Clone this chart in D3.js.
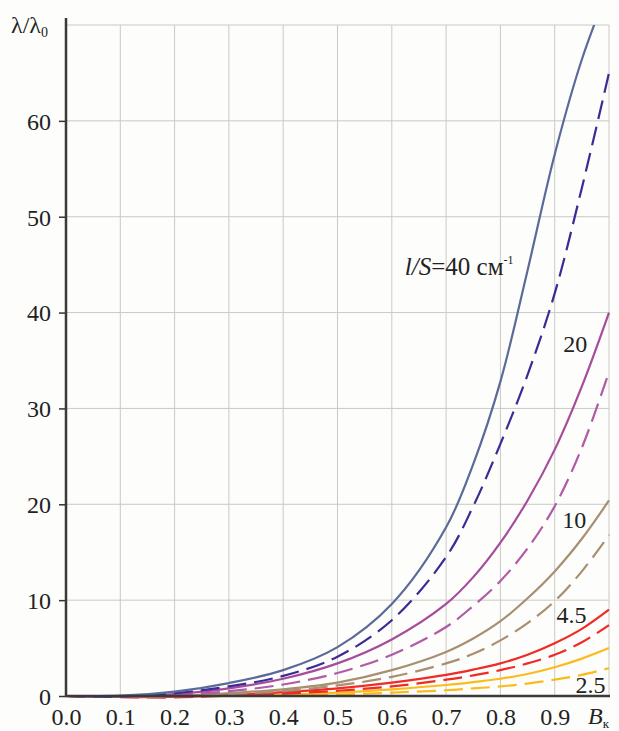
<!DOCTYPE html>
<html><head><meta charset="utf-8">
<script src="https://cdn.jsdelivr.net/npm/d3@7"></script>
<style>
body{margin:0;background:#fdfdfb;}
svg{display:block;}
text{font-family:"Liberation Serif","Times New Roman",serif;fill:#222;}
</style></head><body>
<svg id="c" width="619" height="731"></svg>
<script>
const bk = [0, 0.1, 0.2, 0.3, 0.4, 0.5, 0.6, 0.7, 0.75, 0.8, 0.85, 0.9, 0.95, 1.0];
const s40 = [0, 0.03, 0.45, 1.35, 2.7, 5.1, 9.6, 17.6, 24.2, 32.8, 44.4, 56.5, 66.4, 74];
const d40 = [0, -0.05, 0.3, 1.0, 2.1, 4.1, 7.9, 14.5, 19.8, 26.3, 33.5, 42.0, 53.0, 65];
const s20 = [0, -0.05, 0.2, 0.8, 1.8, 3.4, 5.9, 9.6, 12.4, 16.0, 20.4, 25.7, 32.3, 40];
const d20 = [0, -0.08, 0.1, 0.5, 1.2, 2.4, 4.3, 7.2, 9.4, 12.0, 15.4, 19.8, 25.9, 33.8];
const s10 = [0, -0.08, 0.0, 0.3, 0.7, 1.4, 2.7, 4.6, 6.0, 7.8, 10.2, 13.0, 16.4, 20.4];
const d10 = [0, -0.1, -0.05, 0.2, 0.5, 1.1, 2.0, 3.4, 4.4, 5.8, 7.6, 9.9, 13.0, 16.8];
const s45 = [0, -0.1, -0.08, 0.1, 0.4, 0.8, 1.4, 2.2, 2.75, 3.4, 4.3, 5.5, 7.0, 9.0];
const d45 = [0, -0.12, -0.15, 0.05, 0.25, 0.55, 1.0, 1.7, 2.15, 2.7, 3.4, 4.3, 5.6, 7.4];
const s25 = [0, -0.05, -0.05, 0.05, 0.15, 0.35, 0.7, 1.15, 1.45, 1.8, 2.3, 3.0, 3.9, 5.0];
const d25 = [0, -0.05, -0.08, 0.0, 0.05, 0.15, 0.35, 0.6, 0.8, 1.0, 1.3, 1.7, 2.2, 2.9];
const seriesNames = ["40", "40d", "20", "20d", "10", "10d", "4.5", "4.5d", "2.5", "2.5d"];
const seriesVals = [s40, d40, s20, d20, s10, d10, s45, d45, s25, d25];
const seriesColors = ["#5b6a98", "#3a2b95", "#a64c9c", "#b25aa6", "#a98f72", "#a98f72", "#ee2b25", "#ee2b25", "#fbbb1c", "#fbbb1c"];
const seriesDashed = [false, true, false, true, false, true, false, true, false, true];
const xTicks = [0, 0.1, 0.2, 0.3, 0.4, 0.5, 0.6, 0.7, 0.8, 0.9];
const yTicks = [0, 10, 20, 30, 40, 50, 60];
const curveLabels = ["20", "10", "4.5", "2.5"];
const curveLabelPos = [[0.938, 35.9], [0.936, 17.5], [0.931, 7.6], [0.966, 0.3]];

const svg = d3.select("#c");
const L = 66, R = 609, T = 25, B = 696;
const x = d3.scaleLinear().domain([0, 1]).range([L, R]);
const y = d3.scaleLinear().domain([0, 70]).range([B, T]);
const FS = 24;

svg.append("rect").attr("x", 0).attr("y", 0).attr("width", 619).attr("height", 731).attr("fill", "#fdfdfb");

// grid
const g = svg.append("g");
g.selectAll("line.v").data(d3.range(1, 11).map(i => i / 10)).join("line")
  .attr("x1", d => x(d)).attr("x2", d => x(d)).attr("y1", T).attr("y2", B)
  .attr("stroke", "#c9c9c6").attr("stroke-width", 1);
g.selectAll("line.h").data(d3.range(1, 8).map(i => i * 10)).join("line")
  .attr("x1", L).attr("x2", R).attr("y1", d => y(d)).attr("y2", d => y(d))
  .attr("stroke", "#c9c9c6").attr("stroke-width", 1);

svg.append("defs").append("clipPath").attr("id", "clip")
  .append("rect").attr("x", L).attr("y", T).attr("width", R - L + 2).attr("height", B - T + 4);

const line = d3.line().x(d => x(d[0])).y(d => y(d[1])).curve(d3.curveCatmullRom.alpha(0.5));
const cg = svg.append("g").attr("clip-path", "url(#clip)");
for (let i = seriesVals.length - 1; i >= 0; i--) {
  const pts = bk.map((b, j) => [b, seriesVals[i][j]]);
  cg.append("path").datum(pts).attr("d", line)
    .attr("fill", "none").attr("stroke", seriesColors[i])
    .attr("stroke-width", 2.2)
    .attr("stroke-dasharray", seriesDashed[i] ? "19,8" : null);
}

// axes
const xa = svg.append("g").attr("transform", `translate(0,${B})`)
  .call(d3.axisBottom(x).tickValues(xTicks).tickFormat(d3.format(".1f")).tickSize(0).tickPadding(12));
xa.select(".domain").remove();
xa.selectAll("text").attr("font-size", FS).attr("fill", "#222");
const ya = svg.append("g").attr("transform", `translate(${L},0)`)
  .call(d3.axisLeft(y).tickValues(yTicks).tickFormat(d3.format("d")).tickSize(7).tickPadding(8));
ya.select(".domain").remove();
ya.selectAll("line").attr("stroke", "#333").attr("stroke-width", 1.5);
ya.selectAll("text").attr("font-size", FS).attr("fill", "#222").attr("dy", "0.35em");

svg.append("line").attr("x1", L).attr("x2", L).attr("y1", 18).attr("y2", B + 1)
  .attr("stroke", "#3a3a3a").attr("stroke-width", 2.5);
svg.append("line").attr("x1", L - 1).attr("x2", R + 1).attr("y1", B).attr("y2", B)
  .attr("stroke", "#3a3a3a").attr("stroke-width", 2.5);

// axis titles
const yt = svg.append("text").attr("x", 11).attr("y", 33).attr("font-size", FS);
yt.append("tspan").text("λ/λ");
yt.append("tspan").attr("font-size", 14).attr("dy", 4).text("0");
const xt = svg.append("text").attr("x", 588).attr("y", B + 28).attr("font-size", FS);
xt.append("tspan").attr("font-style", "italic").text("B");
xt.append("tspan").attr("font-size", 13).attr("dy", 4).text("к");

// curve labels
const lt = svg.append("text").attr("x", x(0.624)).attr("y", y(43.9)).attr("font-size", 25);
lt.append("tspan").attr("font-style", "italic").text("l/S");
lt.append("tspan").text("=40 см");
lt.append("tspan").attr("font-size", 12).attr("dy", -11).text("-1");
svg.selectAll("text.cl").data(curveLabels).join("text").attr("class", "cl")
  .attr("x", (d, i) => x(curveLabelPos[i][0])).attr("y", (d, i) => y(curveLabelPos[i][1]))
  .attr("font-size", FS).attr("text-anchor", "middle").text(d => d);
</script></body></html>
